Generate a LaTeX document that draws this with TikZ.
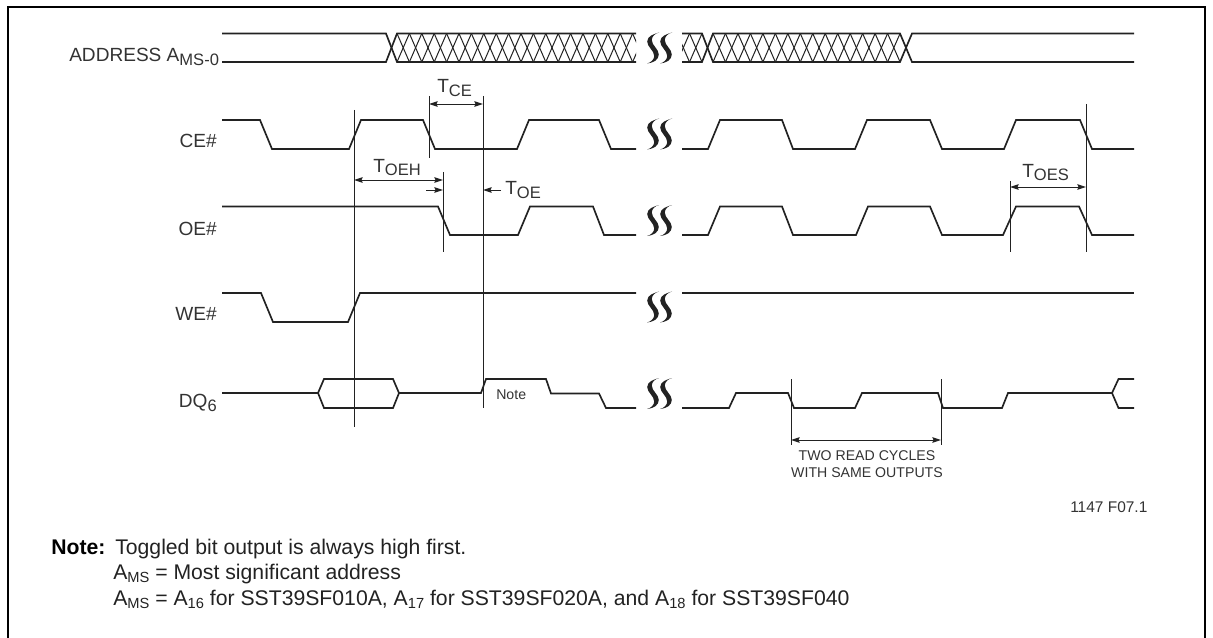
\documentclass[tikz,border=0pt]{standalone}
\usepackage{fontspec}
\setmainfont{Liberation Sans}
\usetikzlibrary{arrows.meta}
\definecolor{ink}{HTML}{222222}
\definecolor{txt}{HTML}{333333}
\newcommand{\fs}[1]{\fontsize{#1}{#1}\selectfont}
\newcommand{\lsub}[2]{{\fs{14.3}#1}{\fs{12.4}\raisebox{-2.8pt}{#2}}}
\newcommand{\nsub}[2]{{\fs{15.9}#1}{\fs{11}\raisebox{-2.4pt}{#2}}}
\newcommand{\breakmark}[2]{%
  \fill[ink,shift={(#1,#2)}] (6,-15.5) .. controls (1,-14) and (-5.8,-12) .. (-5.8,-6.5)
    .. controls (-5.8,-1) and (1.2,2.5) .. (1.2,8)
    .. controls (1.2,11.5) and (-2,14.5) .. (-6,15.5)
    .. controls (0,15) and (5.8,12) .. (5.8,6.5)
    .. controls (5.8,1) and (-1.2,-2.5) .. (-1.2,-8)
    .. controls (-1.2,-11.5) and (2,-14.5) .. (6,-15.5) -- cycle;}
\tikzset{
  wave/.style={draw=ink,line width=1.25pt,line join=miter},
  hatch/.style={draw=ink,line width=0.75pt},
  guide/.style={draw=ink,line width=0.75pt},
  dim/.style={draw=ink,line width=0.7pt,{Stealth[length=6.5pt,width=4.2pt,inset=0.9pt]}-{Stealth[length=6.5pt,width=4.2pt,inset=0.9pt]}},
  dimone/.style={draw=ink,line width=0.7pt,-{Stealth[length=6.5pt,width=4.2pt,inset=0.9pt]}},
  lab/.style={inner sep=0pt,text=txt,font=\fs{14.3}},
  small/.style={inner sep=0pt,text=txt,font=\fs{10.6}},
  notetext/.style={inner sep=0pt,text=ink,font=\fs{15.9},anchor=base west}
}
\begin{document}
\begin{tikzpicture}[x=0.75pt,y=-0.75pt]
\useasboundingbox (0,0) rectangle (1213,638);
% frame
\draw[black,line width=1.6pt] (8,640) -- (8,7) -- (1205,7) -- (1205,640);

% address bus
\draw[wave] (222,33.5) -- (386,33.5) -- (397,62) -- (636,62);
\draw[wave] (222,62) -- (386,62) -- (397,33.5) -- (636,33.5);
\begin{scope}
  \clip (397,30) rectangle (636,66);
  \foreach \k in {0,...,19} {
    \draw[hatch] ({397+12.4*\k},33.5) -- ({397+12.4*(\k+1)},62);
    \draw[hatch] ({397+12.4*\k},62) -- ({397+12.4*(\k+1)},33.5);
  }
\end{scope}
\draw[wave] (682,33.5) -- (702,33.5) -- (713,62) -- (900,62) -- (912,33.5) -- (1134,33.5);
\draw[wave] (682,62) -- (702,62) -- (713,33.5) -- (900,33.5) -- (912,62) -- (1134,62);
\begin{scope}
  \clip (682,30) rectangle (702,66);
  \foreach \k in {0,1} {
    \draw[hatch] ({702-12.47*\k},33.5) -- ({702-12.47*(\k+1)},62);
    \draw[hatch] ({702-12.47*\k},62) -- ({702-12.47*(\k+1)},33.5);
  }
\end{scope}
\foreach \k in {0,...,14} {
  \draw[hatch] ({713+12.47*\k},33.5) -- ({713+12.47*(\k+1)},62);
  \draw[hatch] ({713+12.47*\k},62) -- ({713+12.47*(\k+1)},33.5);
}

% CE#
\draw[wave] (222,120) -- (260,120) -- (272,149) -- (349,149) -- (361,120) -- (423,120) -- (435,149) -- (517,149) -- (529,120) -- (599,120) -- (611,149) -- (636,149);
\draw[wave] (682,149) -- (708,149) -- (720,120) -- (782,120) -- (793,149) -- (855,149) -- (867,120) -- (930,120) -- (942,149) -- (1004,149) -- (1016,120) -- (1080,120) -- (1092,149) -- (1134,149);

% OE#
\draw[wave] (222,206.5) -- (438,206.5) -- (450,235) -- (518,235) -- (530,206.5) -- (593,206.5) -- (604,235) -- (636,235);
\draw[wave] (682,235) -- (708,235) -- (720,206.5) -- (782,206.5) -- (793,235) -- (856,235) -- (868,206.5) -- (930,206.5) -- (942,235) -- (1003,235) -- (1016,206.5) -- (1079,206.5) -- (1092,235) -- (1134,235);

% WE#
\draw[wave] (222,293) -- (261,293) -- (273,322) -- (348,322) -- (360,293) -- (636,293);
\draw[wave] (682,293) -- (1134,293);

% DQ6
\draw[wave] (222,393) -- (318,393) -- (324,379) -- (393,379) -- (399,393) -- (393,408) -- (324,408) -- (318,393);
\draw[wave] (399,393) -- (481,393) -- (486,379) -- (546,379) -- (551,393.5) -- (599,393.5) -- (606,408) -- (636,408);
\draw[wave] (682,408) -- (729,408) -- (736,393) -- (788,393) -- (794,408) -- (855,408) -- (862,393) -- (938,393) -- (943,408) -- (1002,408) -- (1008,393) -- (1112,393) -- (1118.5,379) -- (1134,379);
\draw[wave] (1112,393) -- (1118.5,408) -- (1134,408);

% break marks
\foreach \yy in {48,134,220.5,307,393.5} {
  \breakmark{653}{\yy}
  \breakmark{666}{\yy}
}

% guide lines
\coordinate (g1t) at (354,110); \coordinate (g1b) at (354,427);
\coordinate (g2t) at (429,96);  \coordinate (g2b) at (429,158);
\coordinate (g3t) at (443,172); \coordinate (g3b) at (443,252);
\coordinate (g4t) at (483,96);  \coordinate (g4b) at (483,408);
\coordinate (g5t) at (791,379); \coordinate (g5b) at (791,445);
\coordinate (g6t) at (941,379); \coordinate (g6b) at (941,445);
\coordinate (g7t) at (1010,181); \coordinate (g7b) at (1010,252);
\coordinate (g8t) at (1086,104); \coordinate (g8b) at (1086,252);
\foreach \g in {1,...,8} { \draw[guide] (g\g t) -- (g\g b); }

% dimensions
\draw[dim] (g2t |- 0,104) -- (g4t |- 0,104);
\draw[dim] (g1t |- 0,180) -- (g3t |- 0,180);
\coordinate (oehs) at (426,190); \coordinate (oes) at (501,190);
\draw[dimone] (oehs) -- (g3t |- oehs);
\draw[dimone] (oes) -- (g4t |- oes);
\draw[dim] (g7t |- 0,187) -- (g8t |- 0,187);
\draw[dim] (g5t |- 0,440) -- (g6t |- 0,440);

% signal labels
\node[lab,anchor=base west] (addr) at (69,61.7) {ADDRESS A{\fs{12.4}\raisebox{-3.2pt}{MS-0}}};
\node[lab,anchor=base east] (ce) at (217,148) {CE\#};
\node[lab,anchor=base east] (oe) at (217,235) {OE\#};
\node[lab,anchor=base east] (we) at (217,320.7) {WE\#};
\node[lab,anchor=base east] (dq) at (217,407) {DQ{\fs{12.4}\raisebox{-3.2pt}{6}}};

% timing labels
\node[lab,anchor=base west] (tce) at (437,93) {\lsub{T}{CE}};
\node[lab,anchor=base west] (toeh) at (373,172) {\lsub{T}{OEH}};
\node[lab,anchor=base west] (toe) at (505,195) {\lsub{T}{OE}};
\node[lab,anchor=base west] (toes) at (1022,177) {\lsub{T}{OES}};

% small labels
\node[small,anchor=base west] (nt) at (496,399) {Note};
\node[small,anchor=base] (two) at (867,460) {TWO READ CYCLES};
\node[small,anchor=base] (same) at (867,477) {WITH SAME OUTPUTS};
\node[inner sep=0pt,text=txt,font=\fs{11.6},anchor=base west] (fig) at (1070,512) {1147 F07.1};

% notes
\node[notetext,text=black] (nb) at (51,554) {\textbf{Note:}};
\node[notetext] (n1) at (115,554) {Toggled bit output is always high first.};
\node[notetext] (n2) at (113,579) {\nsub{A}{MS} = Most significant address};
\node[notetext] (n3) at (113,605) {\nsub{A}{MS} = \nsub{A}{16} for SST39SF010A, \nsub{A}{17} for SST39SF020A, and \nsub{A}{18} for SST39SF040};
\end{tikzpicture}
\end{document}
